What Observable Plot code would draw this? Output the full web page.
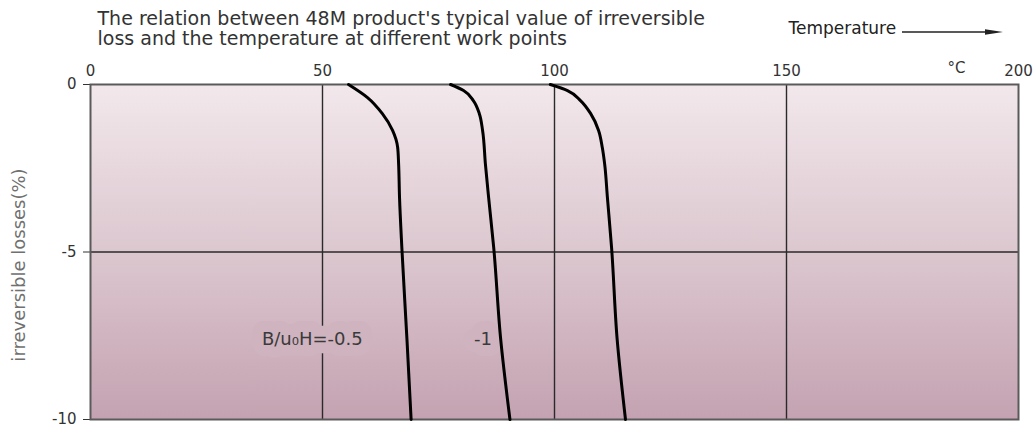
<!DOCTYPE html>
<html>
<head>
<meta charset="utf-8">
<script src="https://cdn.jsdelivr.net/npm/d3@7"></script>
<script src="https://cdn.jsdelivr.net/npm/@observablehq/plot@0.6"></script>
<style>
  body { margin: 0; background: #ffffff; }
  #chart svg { display: block; }
</style>
</head>
<body>
<div id="chart"></div>
<script>
// ---- data ----
const titleText = "The relation between 48M product's typical value of irreversible\nloss and the temperature at different work points";
const xLabelText = "Temperature";
const unitText = "°C";
const yLabelText = "irreversible losses(%)";
const xTicks = [0, 50, 100, 150, 200];
const yTicks = [0, -5, -10];
const gridX = [50, 100, 150];
const gridY = [-5];

const seriesNames = ["-0.5", "-1", "third"];
const tempsA = [55.6, 59.7, 62.9, 65.1, 66.2, 66.4, 66.6, 67.1, 68.2, 69.1];
const lossA  = [0, -0.39, -0.87, -1.37, -1.88, -2.36, -3.37, -4.87, -7.6, -10];
const tempsB = [77.6, 80.4, 82.5, 83.8, 84.5, 85.1, 85.8, 86.9, 88.4, 90.4];
const lossB  = [0, -0.18, -0.48, -0.87, -1.37, -2.36, -3.37, -4.87, -7.6, -10];
const tempsC = [99.1, 102.8, 105.6, 107.8, 109.5, 110.3, 110.8, 111.4, 112.3, 113.5, 115.3];
const lossC  = [0, -0.18, -0.48, -0.87, -1.37, -1.88, -2.36, -3.37, -4.87, -7.6, -10];

const curveLabels = ["B/u\u2080H=-0.5", "-1"];
const curveLabelTemps = [47.8, 84.6];
const curveLabelLosses = [-7.6, -7.6];

// ---- build table ----
const rows = [];
[[tempsA, lossA], [tempsB, lossB], [tempsC, lossC]].forEach(([ts, ls], k) => {
  ts.forEach((t, i) => rows.push({series: seriesNames[k], temp: t, loss: ls[i]}));
});
const labelRows = curveLabels.map((t, i) => ({text: t, temp: curveLabelTemps[i], loss: curveLabelLosses[i]}));

const W = 1035, H = 432, mL = 90, mT = 84, mR = 17, mB = 13;
const FONT = "DejaVu Sans";

const defsMark = () => {
  const d = d3.create("svg:defs");
  const g = d.append("linearGradient").attr("id", "bg")
    .attr("x1", 0).attr("x2", 0).attr("y1", 0).attr("y2", 1);
  g.append("stop").attr("offset", "0%").attr("stop-color", "#f2e8ec");
  g.append("stop").attr("offset", "50%").attr("stop-color", "#dcc7cf");
  g.append("stop").attr("offset", "100%").attr("stop-color", "#c4a2b1");
  return d.node();
};

const arrowMark = () => {
  const g = d3.create("svg:g");
  g.append("line").attr("x1", 902).attr("x2", 992).attr("y1", 32).attr("y2", 32)
    .attr("stroke", "#222").attr("stroke-width", 1.4);
  g.append("path").attr("d", "M985,29.3 L1003,32 L985,34.7 Z").attr("fill", "#222");
  return g.node();
};

const chart = Plot.plot({
  width: W, height: H,
  marginLeft: mL, marginTop: mT, marginRight: mR, marginBottom: mB,
  style: {fontFamily: FONT, fontSize: "15px", color: "#333", background: "transparent"},
  x: {domain: [0, 200], axis: "top", ticks: xTicks, tickSize: 0, tickPadding: 9, label: null},
  y: {domain: [-10, 0], ticks: yTicks, tickSize: 7, tickPadding: 7, label: null, tickFormat: d => String(d)},
  marks: [
    defsMark,
    Plot.frame({fill: "url(#bg)", stroke: null}),
    Plot.ruleX(gridX, {stroke: "#2a2a2a", strokeWidth: 1.4}),
    Plot.ruleY(gridY, {stroke: "#2a2a2a", strokeWidth: 1.6}),
    Plot.frame({stroke: "#5a5a5a", strokeWidth: 2}),
    Plot.text(labelRows, {x: "temp", y: "loss", text: "text", fontSize: 18, fill: "#3a3a3a",
      stroke: "#cfb3bf", strokeWidth: 22, strokeLinejoin: "round", paintOrder: "stroke"}),
    Plot.line(rows, {x: "temp", y: "loss", z: "series", stroke: "#000", strokeWidth: 3, curve: "monotone-y"}),
    Plot.text([titleText], {frameAnchor: "top-left", dx: 7, dy: -74, textAnchor: "start", lineAnchor: "top",
      fontSize: 19, lineHeight: 1.06, fill: "#333"}),
    Plot.text([xLabelText], {frameAnchor: "top-right", dx: -230, dy: -56, textAnchor: "start", lineAnchor: "middle",
      fontSize: 17, fill: "#222"}),
    Plot.text([unitText], {frameAnchor: "top-right", dx: -62, dy: -16, textAnchor: "middle", lineAnchor: "middle",
      fontSize: 15, fill: "#333"}),
    Plot.text([yLabelText], {frameAnchor: "left", dx: -71, dy: 13, rotate: -90, textAnchor: "middle", lineAnchor: "middle",
      fontSize: 18, fill: "#707070"}),
    arrowMark
  ]
});
document.getElementById("chart").appendChild(chart);
</script>
</body>
</html>
